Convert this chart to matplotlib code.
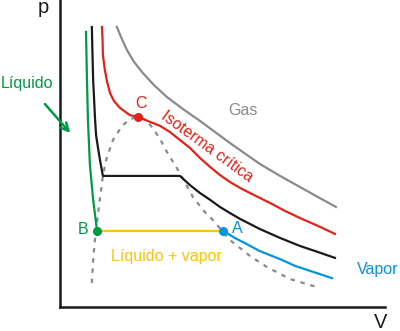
import matplotlib
matplotlib.use("Agg")
import matplotlib.pyplot as plt

plt.rcParams['font.family'] = ['Liberation Sans', 'DejaVu Sans']

# isotermas (V, p en unidades arbitrarias)
gas_v = [1.75, 1.88, 2.06, 2.28, 2.55, 2.89, 3.29, 3.78, 4.31, 4.77, 5.23, 5.69, 6.15, 6.77, 7.38, 7.94, 8.49]
gas_p = [9.12, 8.79, 8.37, 7.98, 7.62, 7.23, 6.84, 6.45, 6.06, 5.70, 5.34, 5.00, 4.66, 4.27, 3.91, 3.58, 3.26]

crit_v = [1.29, 1.31, 1.32, 1.38, 1.45, 1.54, 1.66, 1.85, 2.15, 2.40, 2.77, 3.08, 3.38,
          3.69, 4.00, 4.31, 4.62, 4.92, 5.23, 5.54, 5.85, 6.46, 6.92, 7.38, 7.94, 8.46]
crit_p = [9.12, 8.70, 8.21, 7.72, 7.33, 6.97, 6.71, 6.48, 6.25, 6.19, 6.03, 5.90, 5.70,
          5.44, 5.18, 4.85, 4.56, 4.30, 4.07, 3.88, 3.71, 3.39, 3.13, 2.90, 2.64, 2.38]

iso_v = [0.98, 1.00, 1.02, 1.05, 1.08, 1.11, 1.17, 1.23, 1.32, 3.69, 4.00, 4.31, 4.62,
         4.92, 5.23, 5.54, 6.15, 6.77, 7.38, 7.94, 8.46]
iso_p = [9.12, 8.21, 7.39, 6.74, 6.09, 5.60, 5.18, 4.79, 4.27, 4.27, 3.97, 3.71, 3.49,
         3.26, 3.06, 2.87, 2.54, 2.25, 1.99, 1.79, 1.60]

liq_v = [0.80, 0.83, 0.86, 0.92, 1.02, 1.14]
liq_p = [8.96, 7.39, 6.09, 4.63, 3.49, 2.48]

vap_v = [5.02, 5.38, 5.69, 6.15, 6.77, 7.23, 7.60, 8.00, 8.37]
vap_p = [2.48, 2.25, 2.08, 1.82, 1.56, 1.34, 1.21, 1.07, 0.94]

mezcla_v = [1.14, 5.02]
mezcla_p = [2.48, 2.48]

# campana de saturacion
dome_v = [0.98, 1.02, 1.08, 1.23, 1.32, 1.42, 1.63, 1.91, 2.15, 2.40, 2.65, 2.83,
          3.08, 3.29, 3.69, 4.09, 4.46, 4.71, 5.23, 5.85, 6.37, 7.08, 8.00]
dome_p = [0.78, 1.53, 2.25, 3.55, 4.27, 4.79, 5.44, 5.90, 6.12, 6.19, 6.09, 5.86,
          5.47, 5.05, 4.36, 3.58, 3.09, 2.83, 2.18, 1.66, 1.30, 0.91, 0.62]

punto_c = (2.40, 6.19)
punto_a = (5.02, 2.48)
punto_b = (1.14, 2.48)

verde = '#009a44'
rojo = '#e2231a'
gris = '#8a8a8a'
negro = '#1a1a1a'
azul = '#0096dc'
amarillo = '#ffc20e'

fig = plt.figure(figsize=(4.0, 3.31), dpi=100)
ax = fig.add_axes([0.15, 0.0725, 0.8125, 0.9275])
ax.set_xlim(0, 10)
ax.set_ylim(0, 10)

lw = 1.6
ax.plot(dome_v, dome_p, color=gris, lw=lw, dashes=(2, 2.6))
ax.plot(gas_v, gas_p, color=gris, lw=lw, solid_joinstyle='round')
ax.plot(crit_v, crit_p, color=rojo, lw=lw, solid_joinstyle='round')
ax.plot(iso_v, iso_p, color=negro, lw=lw, solid_joinstyle='round')
ax.plot(liq_v, liq_p, color=verde, lw=lw, solid_joinstyle='round')
ax.plot(vap_v, vap_p, color=azul, lw=lw, solid_joinstyle='round')
ax.plot(mezcla_v, mezcla_p, color=amarillo, lw=lw)

ax.plot(*punto_c, 'o', color=rojo, ms=5.5)
ax.plot(*punto_a, 'o', color=azul, ms=5.5)
ax.plot(*punto_b, 'o', color=verde, ms=5.5)

# ejes solo como lineas
for s in ['top', 'right']:
    ax.spines[s].set_visible(False)
for s in ['left', 'bottom']:
    ax.spines[s].set_linewidth(1.8)
    ax.spines[s].set_color(negro)
ax.set_xticks([])
ax.set_yticks([])

fs = 11.5
ax.text(-0.52, 9.74, 'p', fontsize=14.5, ha='center', va='center', color=negro)
ax.text(9.85, -0.49, 'V', fontsize=14.5, ha='center', va='center', color=negro)
ax.text(-1.02, 7.13, 'Líquido', fontsize=fs, ha='center', va='baseline', color=verde)
ax.annotate('', xy=(0.37, 5.60), xytext=(-0.52, 6.68),
            arrowprops=dict(arrowstyle='->', color=verde, lw=1.8,
                            mutation_scale=14), annotation_clip=False)
ax.text(2.49, 6.48, 'C', fontsize=fs, ha='center', va='baseline', color=rojo)
ax.text(5.63, 6.25, 'Gas', fontsize=fs, ha='center', va='baseline', color=gris)
ax.text(0.71, 2.38, 'B', fontsize=fs, ha='center', va='baseline', color=verde)
ax.text(5.46, 2.41, 'A', fontsize=fs, ha='center', va='baseline', color=azul)
ax.text(3.28, 1.50, 'Líquido + vapor', fontsize=fs, ha='center', va='baseline', color=amarillo)
ax.text(9.78, 1.07, 'Vapor', fontsize=fs, ha='center', va='baseline', color=azul)
ax.text(4.52, 5.24, 'Isoterma crítica', fontsize=fs, ha='center', va='center',
        rotation=-36, rotation_mode='anchor', color=rojo)

fig.savefig('out.png', dpi=100)
